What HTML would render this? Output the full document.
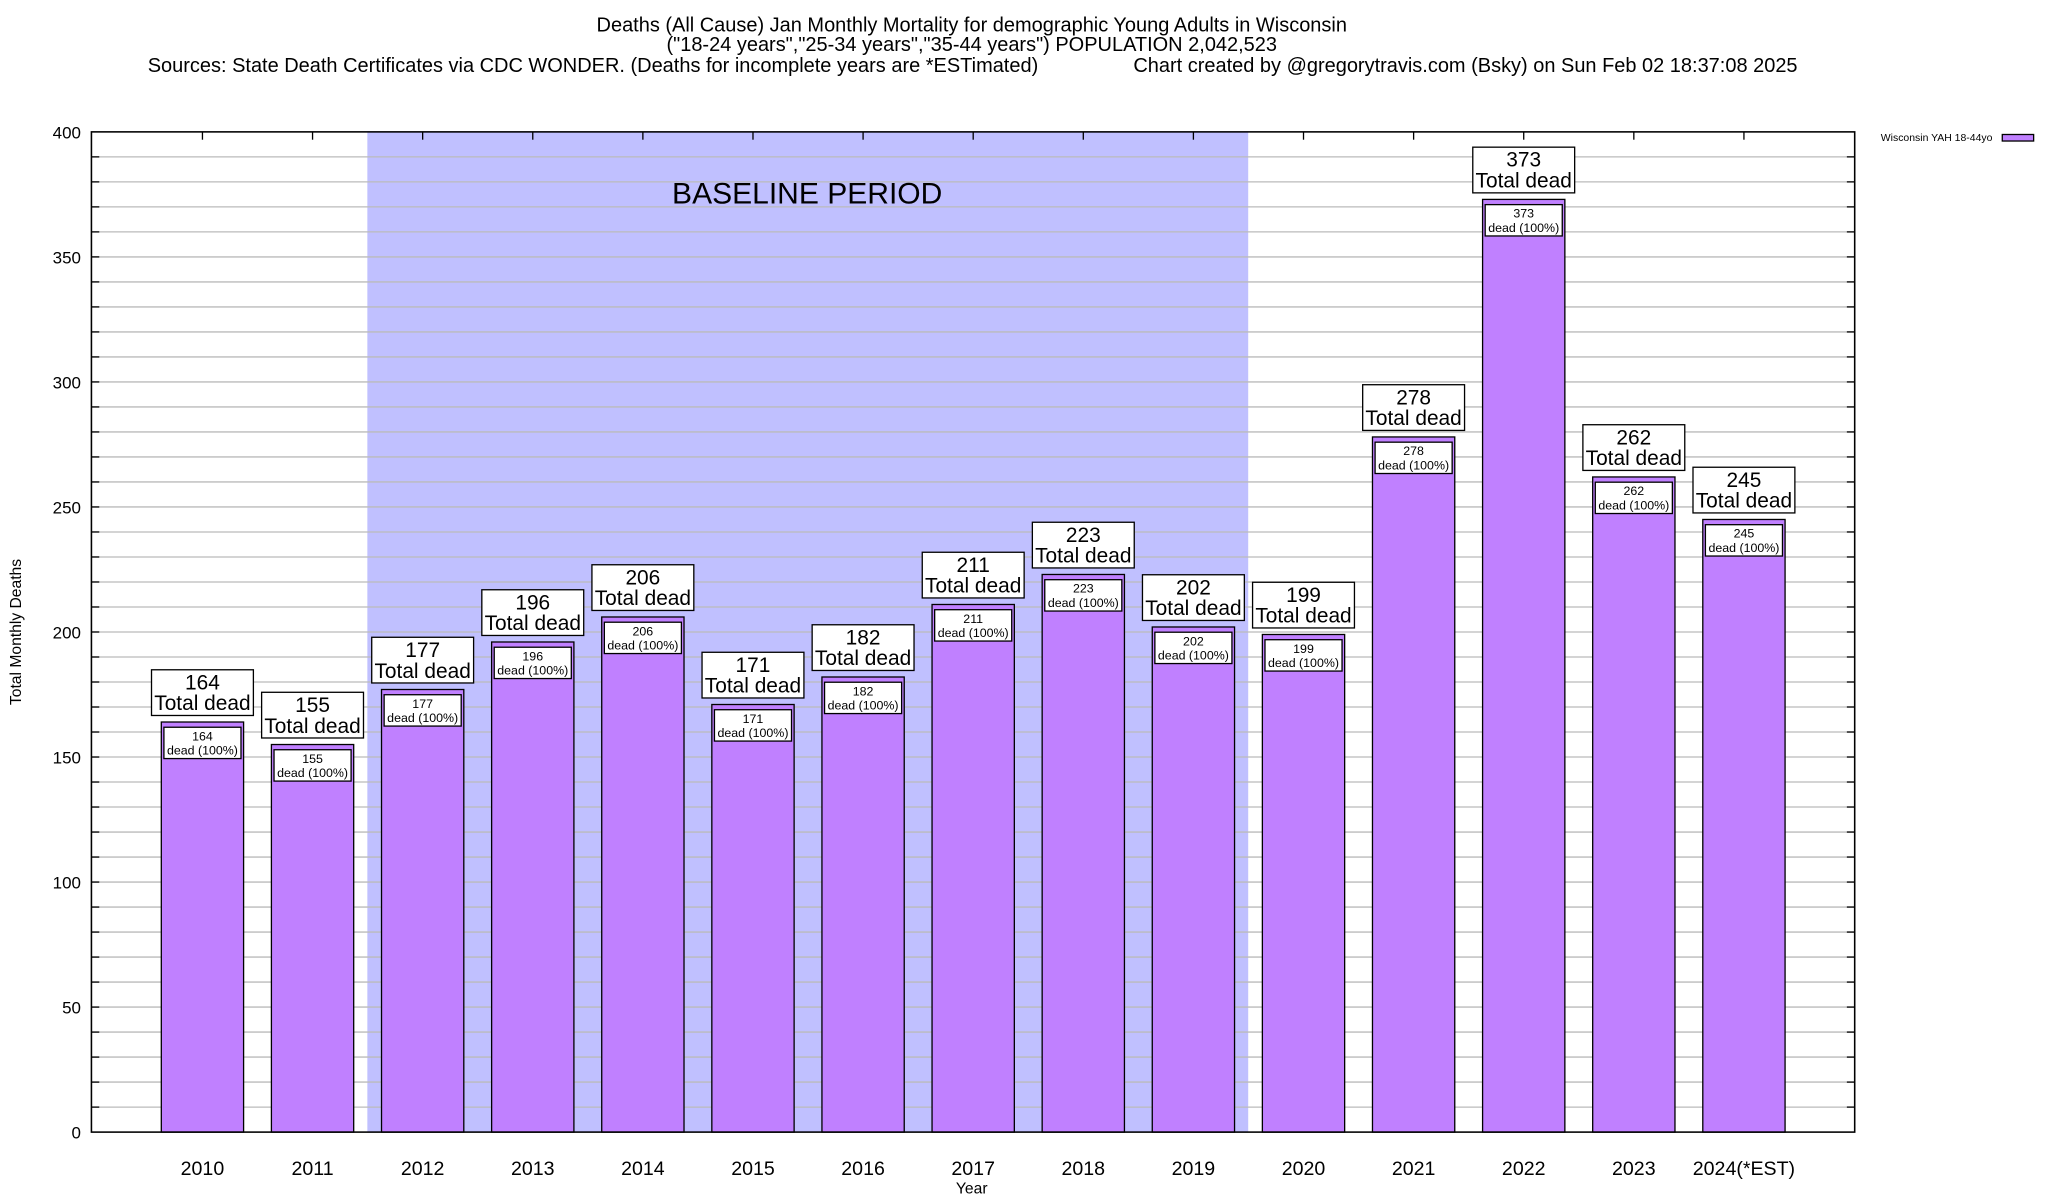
<!DOCTYPE html>
<html><head><meta charset="utf-8"><style>
html,body{margin:0;padding:0;background:#fff}
svg{display:block}
text{font-family:"Liberation Sans",sans-serif;fill:#000}
</style></head><body>
<svg id="chart" width="2048" height="1200" viewBox="0 0 1568 919" preserveAspectRatio="none" xmlns="http://www.w3.org/2000/svg">
<rect width="1568" height="919" fill="#fff"/>
<g font-size="15.3" text-anchor="middle">
<text x="744" y="24">Deaths (All Cause) Jan Monthly Mortality for demographic Young Adults in Wisconsin</text>
<text x="744" y="39">("18-24 years","25-34 years","35-44 years") POPULATION 2,042,523</text>
<text x="454" y="55">Sources: State Death Certificates via CDC WONDER. (Deaths for incomplete years are *ESTimated)</text>
<text x="1122" y="55">Chart created by @gregorytravis.com (Bsky) on Sun Feb 02 18:37:08 2025</text>
</g>
<g id="grid"></g>
<g id="bars"></g>
<rect x="70" y="101" width="1350" height="766" fill="none" stroke="#000" stroke-width="1.2"/>
<text x="16" y="484" font-size="12" text-anchor="middle" transform="rotate(-90 16 484)">Total Monthly Deaths</text>
<text x="744" y="914" font-size="12" text-anchor="middle">Year</text>
<text x="618" y="156" font-size="23" text-anchor="middle">BASELINE PERIOD</text>
<g>
<text x="1440" y="108" font-size="8">Wisconsin YAH 18-44yo</text>
<rect x="1533" y="103" width="24" height="5" fill="#c080ff" stroke="#000" stroke-width="1"/>
</g>
</svg>
<script>
const categories = ["2010","2011","2012","2013","2014","2015","2016","2017","2018","2019","2020","2021","2022","2023","2024(*EST)"];
const deaths = [164,155,177,196,206,171,182,211,223,202,199,278,373,262,245];
const yTicks = [0,50,100,150,200,250,300,350,400];
const baselineRange = [2012, 2019];

const NS="http://www.w3.org/2000/svg";
const L=70,R=1420,T=101,B=867,YMAX=400;
const y=v=>B-(v/YMAX)*(B-T);
const step=84.3, c0=155;
const x=i=>c0+i*step;
const BW=63;
function mk(tag,attrs,parent,txt){const e=document.createElementNS(NS,tag);for(const k in attrs)e.setAttribute(k,attrs[k]);if(txt!==undefined)e.textContent=txt;parent.appendChild(e);return e;}
const grid=document.getElementById('grid'), bars=document.getElementById('bars');
const bi0=categories.indexOf(String(baselineRange[0])), bi1=categories.indexOf(String(baselineRange[1]));
const sh=mk('rect',{x:x(bi0)-step/2-0.2,y:T,width:(x(bi1)+step/2)-(x(bi0)-step/2),height:B-T,fill:'#c0c0ff'},grid);


for(let v=10;v<YMAX;v+=10){
  const g=mk('line',{x1:L,x2:R,y1:y(v),y2:y(v),stroke:'#bbb','stroke-width':1},grid);
  
  
  mk('line',{x1:R,x2:R-6,y1:y(v),y2:y(v),stroke:'#000','stroke-width':1},grid);
  mk('line',{x1:L,x2:L+6,y1:y(v),y2:y(v),stroke:'#000','stroke-width':1},grid);
}
yTicks.forEach(v=>{
  const t=mk('text',{x:L-8,y:y(v)+5,'font-size':13,'text-anchor':'end'},grid,String(v));
  
  
});
categories.forEach((c,i)=>{
  mk('line',{x1:x(i),x2:x(i),y1:T,y2:T+6,stroke:'#000','stroke-width':1},grid);
  const t=mk('text',{x:x(i),y:900,'font-size':15,'text-anchor':'middle'},grid,c);
  
  
});
deaths.forEach((v,i)=>{
  const cx=x(i), top=y(v);
  const g=mk('g',{},bars);
  
  
  mk('rect',{x:cx-BW/2,y:top,width:BW,height:B-top,fill:'#c080ff',stroke:'#000','stroke-width':1},g);
  mk('rect',{x:cx-BW/2+2,y:top+4,width:BW-4,height:24,fill:'#fff',stroke:'#000','stroke-width':1},g);
  mk('text',{x:cx,y:top+14,'font-size':9.5,'text-anchor':'middle'},g,String(v));
  mk('text',{x:cx,y:top+25,'font-size':9.5,'text-anchor':'middle'},g,'dead (100%)');
  const lb=mk('g',{},bars);
  
  
  mk('rect',{x:cx-39,y:top-40,width:78,height:35,fill:'#fff',stroke:'#000','stroke-width':1},lb);
  mk('text',{x:cx,y:top-25,'font-size':16,'text-anchor':'middle'},lb,String(v));
  mk('text',{x:cx,y:top-9,'font-size':16,'text-anchor':'middle'},lb,'Total dead');
});
</script>
</body></html>
